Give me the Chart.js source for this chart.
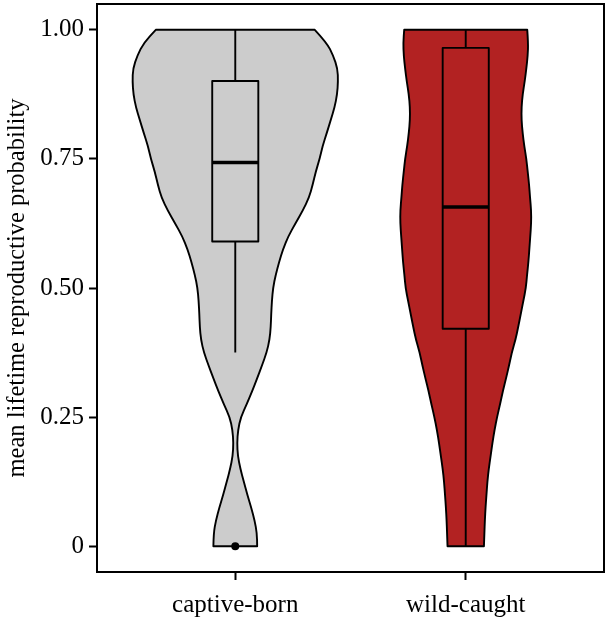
<!DOCTYPE html>
<html>
<head>
<meta charset="utf-8">
<script src="https://cdn.jsdelivr.net/npm/chart.js@4/dist/chart.umd.min.js"></script>
<style>
  body { margin: 0; background: #fff; }
</style>
</head>
<body>
<canvas id="violin-chart" width="608" height="619"></canvas>
<script>
// categories
const groups = ['captive-born', 'wild-caught'];
const groupColors = ['#cccccc', '#b22222'];

// y levels where the violin half-width was read (0 -> 1)
const levels = [0, 0.025, 0.05, 0.075, 0.1, 0.125, 0.15, 0.175, 0.2, 0.225, 0.25,
  0.275, 0.3, 0.325, 0.35, 0.375, 0.4, 0.425, 0.45, 0.475, 0.5,
  0.525, 0.55, 0.575, 0.6, 0.625, 0.65, 0.675, 0.7, 0.725, 0.75,
  0.775, 0.8, 0.825, 0.85, 0.875, 0.9, 0.925, 0.95, 0.975, 1];

// violin half-widths (category units) at each level
const captiveDensity = [0.095, 0.094, 0.084, 0.069, 0.052, 0.037, 0.022, 0.011, 0.008, 0.012, 0.024,
  0.050, 0.073, 0.095, 0.116, 0.136, 0.149, 0.154, 0.156, 0.159, 0.164,
  0.175, 0.190, 0.207, 0.230, 0.261, 0.293, 0.320, 0.336, 0.349, 0.366,
  0.379, 0.397, 0.414, 0.431, 0.442, 0.446, 0.444, 0.425, 0.397, 0.345];
const wildDensity = [0.079, 0.081, 0.083, 0.086, 0.090, 0.094, 0.100, 0.108, 0.116, 0.125, 0.136,
  0.149, 0.161, 0.175, 0.188, 0.200, 0.216, 0.228, 0.239, 0.250, 0.261,
  0.266, 0.272, 0.276, 0.280, 0.284, 0.284, 0.279, 0.275, 0.269, 0.263,
  0.254, 0.247, 0.242, 0.242, 0.247, 0.256, 0.263, 0.269, 0.271, 0.267];
const densities = [captiveDensity, wildDensity];

// box plot stats
const whiskerLow = [0.375, 0];
const q1 = [0.590, 0.421];
const median = [0.743, 0.657];
const q3 = [0.901, 0.965];
const whiskerHigh = [1, 1];
const outliers = [[0], []];

// y tick labels
const yTicks = [0, 0.25, 0.5, 0.75, 1];
const yTickLabels = ['0', '0.25', '0.50', '0.75', '1.00'];

const serif = "'Liberation Serif', 'Times New Roman', serif";
const boxHalf = 0.1;

function smoothSide(ctx, pts, first) {
  if (first) ctx.moveTo(pts[0].x, pts[0].y);
  else ctx.lineTo(pts[0].x, pts[0].y);
  for (let i = 1; i < pts.length - 1; i++) {
    const mx = (pts[i].x + pts[i + 1].x) / 2;
    const my = (pts[i].y + pts[i + 1].y) / 2;
    ctx.quadraticCurveTo(pts[i].x, pts[i].y, mx, my);
  }
  const last = pts[pts.length - 1];
  ctx.lineTo(last.x, last.y);
}

const violinPlugin = {
  id: 'violins',
  beforeDatasetsDraw(chart) {
    const { ctx, scales: { x, y } } = chart;
    ctx.save();
    groups.forEach((g, i) => {
      const cx = i + 1;
      const dens = densities[i];
      const left = levels.map((v, k) => ({ x: x.getPixelForValue(cx - dens[k]), y: y.getPixelForValue(v) }));
      const right = levels.map((v, k) => ({ x: x.getPixelForValue(cx + dens[k]), y: y.getPixelForValue(v) })).reverse();
      ctx.beginPath();
      smoothSide(ctx, left, true);
      smoothSide(ctx, right, false);
      ctx.closePath();
      ctx.fillStyle = groupColors[i];
      ctx.fill();
      ctx.lineWidth = 1.9;
      ctx.strokeStyle = '#000';
      ctx.lineJoin = 'round';
      ctx.stroke();

      // whiskers
      const px = x.getPixelForValue(cx);
      ctx.lineWidth = 1.9;
      ctx.beginPath();
      ctx.moveTo(px, y.getPixelForValue(whiskerHigh[i]));
      ctx.lineTo(px, y.getPixelForValue(q3[i]));
      ctx.moveTo(px, y.getPixelForValue(q1[i]));
      ctx.lineTo(px, y.getPixelForValue(whiskerLow[i]));
      ctx.stroke();

      // box
      const bl = x.getPixelForValue(cx - boxHalf);
      const br = x.getPixelForValue(cx + boxHalf);
      const bt = y.getPixelForValue(q3[i]);
      const bb = y.getPixelForValue(q1[i]);
      ctx.fillStyle = groupColors[i];
      ctx.fillRect(bl, bt, br - bl, bb - bt);
      ctx.strokeRect(bl, bt, br - bl, bb - bt);
      ctx.lineWidth = 3.6;
      ctx.beginPath();
      ctx.moveTo(bl, y.getPixelForValue(median[i]));
      ctx.lineTo(br, y.getPixelForValue(median[i]));
      ctx.stroke();
    });
    ctx.restore();
  },
  afterDraw(chart) {
    const { ctx, chartArea: a } = chart;
    ctx.save();
    ctx.strokeStyle = '#000';
    ctx.lineWidth = 2;
    ctx.beginPath();
    ctx.moveTo(a.left - 1, a.top);
    ctx.lineTo(a.right, a.top);
    ctx.lineTo(a.right, a.bottom + 1);
    ctx.stroke();
    ctx.restore();
  }
};

const outlierPoints = [];
outliers.forEach((list, i) => list.forEach(v => outlierPoints.push({ x: i + 1, y: v })));

const ctx = document.getElementById('violin-chart').getContext('2d');
const chart = new Chart(ctx, {
  type: 'scatter',
  data: {
    datasets: [
      {
        label: 'outliers',
        data: outlierPoints,
        pointRadius: 4,
        backgroundColor: '#000',
        borderWidth: 0,
      },
    ],
  },
  options: {
    responsive: false,
    animation: false,
    layout: { padding: { top: -2, right: 3, left: 0, bottom: 0 } },
    plugins: {
      legend: { display: false },
      tooltip: { enabled: false },
    },
    scales: {
      x: {
        type: 'linear',
        min: 0.4,
        max: 2.6,
        afterBuildTicks: (s) => { s.ticks = groups.map((g, i) => ({ value: i + 1 })); },
        afterFit: (s) => { s.height = 47; s.paddingLeft = 0; s.paddingRight = 0; },
        ticks: {
          callback: (v) => groups[v - 1],
          color: '#000',
          font: { family: serif, size: 25 },
          padding: 10,
          autoSkip: false,
          maxRotation: 0,
        },
        grid: { drawOnChartArea: false, drawTicks: true, tickLength: 8, tickColor: '#000', tickWidth: 2 },
        border: { display: true, color: '#000', width: 2 },
      },
      y: {
        min: -0.05,
        max: 1.05,
        afterBuildTicks: (s) => { s.ticks = yTicks.map(v => ({ value: v })); },
        afterFit: (s) => { s.width = 97; s.paddingTop = 0; s.paddingBottom = 0; },
        ticks: {
          callback: (v) => yTickLabels[yTicks.indexOf(v)],
          color: '#000',
          font: { family: serif, size: 25 },
          padding: 5,
        },
        title: {
          display: true,
          text: 'mean lifetime reproductive probability',
          color: '#000',
          font: { family: serif, size: 24.5 },
          padding: { top: 3, bottom: 0 },
        },
        grid: { drawOnChartArea: false, drawTicks: true, tickLength: 8, tickColor: '#000', tickWidth: 2 },
        border: { display: true, color: '#000', width: 2 },
      },
    },
  },
  plugins: [violinPlugin],
});
</script>
</body>
</html>
